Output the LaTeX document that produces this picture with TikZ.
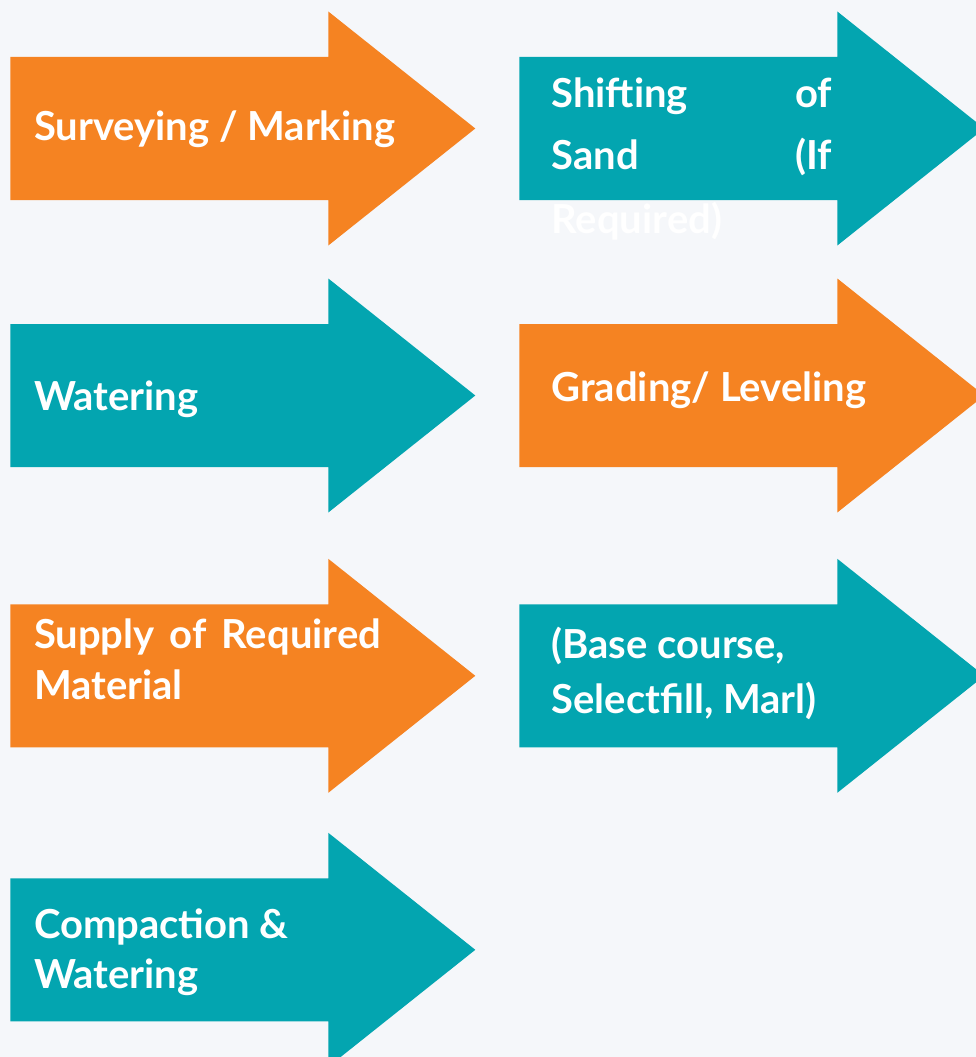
\documentclass[tikz,border=0pt]{standalone}
\usepackage{fontspec}
\setmainfont{Lato}
\definecolor{bg}{HTML}{F5F7FA}
\definecolor{orng}{HTML}{F58322}
\definecolor{teal}{HTML}{03A5B0}
\newcommand{\arrowshape}[4]{% x left, x headbase, body top y, color
  \pgfmathsetmacro{\bt}{#3}
  \fill[#4] (#1,\bt) -- (#2,\bt) -- (#2,\bt-45.5) -- (#2+147,\bt+71.5) -- (#2,\bt+188.5) -- (#2,\bt+143) -- (#1,\bt+143) -- cycle;
}
\begin{document}
\begin{tikzpicture}[x=1pt,y=-1pt,
  lbl/.style={anchor=base west,inner sep=0pt,outer sep=0pt,text=white,font=\fontsize{40}{48}\selectfont\bfseries}]
\useasboundingbox (0,0) rectangle (976,1057);
\fill[bg] (0,0) rectangle (976,1057);
\begin{scope}
\clip (0,0) rectangle (976,1057);
\arrowshape{10.3}{328.3}{57}{orng}
\arrowshape{519.3}{837.3}{57}{teal}
\arrowshape{10.3}{328.3}{324}{teal}
\arrowshape{519.3}{837.3}{324}{orng}
\arrowshape{10.3}{328.3}{604.3}{orng}
\arrowshape{519.3}{837.3}{604.3}{teal}
\arrowshape{10.3}{328.3}{878.3}{teal}
\end{scope}
\node[lbl] (t1) at (34,140) {Surveying / Marking};
\node[lbl] (t2a) at (551.5,107.3) {\hbox to 280.5pt{Shifting\hfill of}};
\node[lbl] (t2b) at (551.5,169) {\hbox to 280.5pt{Sand\hfill (If}};
\node[lbl] (t2c) at (551.5,233) {Required)};
\node[lbl] (t3) at (34,410) {Watering};
\node[lbl] (t4) at (551.5,401.7) {Grading/ Leveling};
\node[lbl] (t5a) at (34,648.3) {\hbox to 347pt{Supply\hfill of\hfill Required}};
\node[lbl] (t5b) at (34,699.3) {Material};
\node[lbl] (t6a) at (551.5,658.3) {(Base course,};
\node[lbl] (t6b) at (551.5,713.3) {Selectfill, Marl)};
\node[lbl] (t7a) at (34,938.3) {Compaction \&};
\node[lbl] (t7b) at (34,988.3) {Watering};
\end{tikzpicture}
\end{document}
